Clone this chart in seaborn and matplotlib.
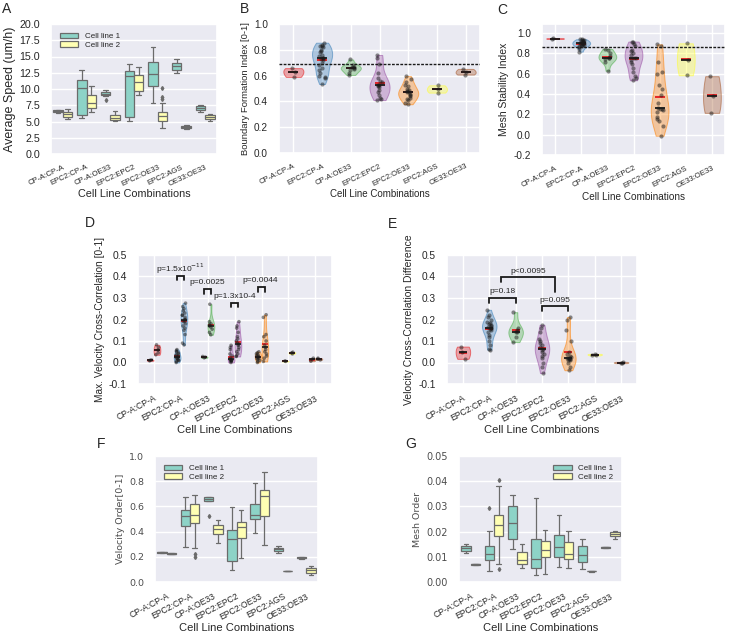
import numpy as np
import pandas as pd
import seaborn as sns
import matplotlib.pyplot as plt
import matplotlib.colors as mcolors
from matplotlib.collections import PolyCollection
from matplotlib.ticker import FormatStrFormatter

combos = ["CP-A:CP-A", "EPC2:CP-A", "CP-A:OE33", "EPC2:EPC2", "EPC2:OE33", "EPC2:AGS", "OE33:OE33"]
cell_lines = ["Cell line 1", "Cell line 2"]

# A - average speed (um/h), one list per combination
speed_line1 = [
    [6.3, 6.4, 6.55, 6.7, 6.8],
    [5.6, 6.0, 10.1, 11.4, 12.9],
    [8.3, 8.9, 9.1, 9.2, 9.3, 9.45, 9.6, 9.7, 9.85],
    [5.1, 5.7, 12.0, 12.8, 13.8],
    [7.8, 10.5, 12.3, 14.1, 16.4],
    [12.4, 12.9, 13.5, 14.0, 14.6],
    [6.5, 6.8, 7.15, 7.35, 7.5],
]
speed_line2 = [
    [5.4, 5.65, 6.1, 6.45, 6.85],
    [6.4, 7.1, 7.8, 9.1, 10.4],
    [5.1, 5.25, 5.5, 5.95, 6.65],
    [9.1, 9.7, 11.1, 12.1, 13.4],
    [4.0, 4.5, 4.8, 5.0, 5.15, 5.3, 5.5, 5.7, 5.9, 6.0, 6.15, 6.3, 6.45, 7.9, 8.5, 8.8, 10.1],
    [3.8, 3.95, 4.15, 4.35, 4.5],
    [5.1, 5.45, 5.75, 6.0, 6.1],
]

# B - boundary formation index
boundary = [
    [0.59, 0.628, 0.658],
    [0.535, 0.58, 0.59, 0.60, 0.62, 0.64, 0.66, 0.68, 0.70, 0.72, 0.73, 0.74, 0.74,
     0.75, 0.76, 0.78, 0.79, 0.80, 0.82, 0.83, 0.83, 0.84, 0.855],
    [0.605, 0.62, 0.64, 0.65, 0.66, 0.665, 0.67, 0.68, 0.725],
    [0.41, 0.42, 0.43, 0.45, 0.47, 0.49, 0.51, 0.52, 0.525, 0.53, 0.55, 0.56, 0.58,
     0.62, 0.69, 0.74, 0.76],
    [0.378, 0.39, 0.41, 0.42, 0.43, 0.44, 0.45, 0.46, 0.47, 0.47, 0.48, 0.49, 0.50,
     0.52, 0.53, 0.55, 0.57, 0.596],
    [0.468, 0.495, 0.525],
    [0.608, 0.628, 0.652],
]
boundary_ref = 0.689

# C - mesh stability index
stability = [
    [0.944, 0.95],
    [0.818, 0.84, 0.86, 0.87, 0.87, 0.88, 0.88, 0.89, 0.89, 0.90, 0.90, 0.90, 0.91,
     0.91, 0.92, 0.92, 0.93, 0.93, 0.94, 0.94],
    [0.63, 0.72, 0.745, 0.755, 0.76, 0.77, 0.80, 0.83, 0.845],
    [0.536, 0.56, 0.58, 0.62, 0.66, 0.70, 0.72, 0.74, 0.76, 0.76, 0.78, 0.80, 0.82,
     0.83, 0.87, 0.89, 0.91, 0.917],
    [-0.01, 0.09, 0.13, 0.15, 0.17, 0.22, 0.24, 0.25, 0.25, 0.26, 0.31, 0.39, 0.45,
     0.49, 0.60, 0.62, 0.72, 0.87, 0.89],
    [0.585, 0.74, 0.90],
    [0.215, 0.38, 0.576],
]
stability_ref = 0.868

# D - max. velocity cross-correlation (left / right group per combination)
xcorr_line1 = [
    [0.008, 0.01, 0.012],
    [0.0, 0.005, 0.01, 0.01, 0.015, 0.02, 0.02, 0.025, 0.03, 0.03, 0.035, 0.04,
     0.045, 0.05, 0.055, 0.06],
    [0.022, 0.025, 0.028],
    [0.0, 0.005, 0.008, 0.01, 0.01, 0.012, 0.015, 0.02, 0.03, 0.04, 0.06, 0.07, 0.08],
    [0.0, 0.005, 0.01, 0.015, 0.02, 0.02, 0.025, 0.03, 0.03, 0.035, 0.04, 0.045, 0.05],
    [0.005, 0.007],
    [0.006, 0.014, 0.02],
]
xcorr_line2 = [
    [0.036, 0.045, 0.058, 0.07, 0.082],
    [0.082, 0.09, 0.13, 0.15, 0.16, 0.17, 0.18, 0.19, 0.19, 0.20, 0.20, 0.21, 0.22,
     0.22, 0.23, 0.24, 0.25, 0.26, 0.276],
    [0.129, 0.14, 0.155, 0.165, 0.17, 0.175, 0.18, 0.19, 0.271],
    [0.028, 0.03, 0.04, 0.05, 0.06, 0.07, 0.08, 0.085, 0.09, 0.10, 0.11, 0.12, 0.14,
     0.16, 0.17, 0.19],
    [0.005, 0.02, 0.03, 0.04, 0.05, 0.06, 0.07, 0.08, 0.10, 0.12, 0.13, 0.21, 0.222],
    [0.04, 0.045, 0.048],
    [0.012, 0.016, 0.02],
]
d_pvalues = ["p=1.5x10$^{-11}$", "p=0.0025", "p=1.3x10-4", "p=0.0044"]

# E - velocity cross-correlation difference
xcorr_diff = [
    [0.017, 0.047, 0.074],
    [0.06, 0.065, 0.08, 0.10, 0.12, 0.13, 0.14, 0.15, 0.155, 0.16, 0.16, 0.165, 0.17,
     0.175, 0.18, 0.185, 0.19, 0.20, 0.21, 0.22, 0.245],
    [0.095, 0.12, 0.14, 0.144, 0.15, 0.16, 0.234],
    [-0.049, -0.02, 0.0, 0.02, 0.03, 0.04, 0.05, 0.06, 0.065, 0.07, 0.08, 0.09, 0.10,
     0.11, 0.14, 0.16, 0.175],
    [-0.036, -0.02, 0.0, 0.01, 0.012, 0.015, 0.018, 0.02, 0.02, 0.025, 0.03, 0.04,
     0.05, 0.10, 0.15, 0.20, 0.211],
    [0.033, 0.037, 0.04],
    [-0.003, 0.0, 0.003],
]
e_pvalues = ["p=0.18", "p=0.095", "p<0.0095"]

# F - velocity order
vorder_line1 = [
    [0.232, 0.234, 0.236, 0.238, 0.24],
    [0.277, 0.446, 0.52, 0.573, 0.673],
    [0.52, 0.64, 0.645, 0.652, 0.66, 0.665, 0.673, 0.674, 0.675],
    [0.098, 0.164, 0.343, 0.409, 0.594],
    [0.39, 0.50, 0.533, 0.62, 0.784],
    [0.232, 0.245, 0.264, 0.272, 0.285],
    [0.186, 0.189, 0.192, 0.195, 0.198],
]
vorder_line2 = [
    [0.22, 0.223, 0.226, 0.229, 0.232],
    [0.20, 0.225, 0.27, 0.47, 0.49, 0.51, 0.533, 0.56, 0.59, 0.62, 0.65, 0.67, 0.69],
    [0.309, 0.383, 0.417, 0.454, 0.493],
    [0.187, 0.348, 0.44, 0.48, 0.573],
    [0.296, 0.52, 0.686, 0.73, 0.87],
    [0.085, 0.086, 0.087, 0.088, 0.09],
    [0.058, 0.074, 0.092, 0.113, 0.124],
]

# G - mesh order
morder_line1 = [
    [0.0117, 0.0125, 0.0135, 0.0141, 0.0152],
    [0.0042, 0.007, 0.0086, 0.01, 0.0112, 0.012, 0.0141, 0.0201, 0.0293],
    [0.0132, 0.0169, 0.0234, 0.030, 0.0347],
    [0.0026, 0.0055, 0.009, 0.0172, 0.0334],
    [0.0059, 0.0099, 0.0139, 0.0185, 0.0264],
    [0.005, 0.0079, 0.0108, 0.0141, 0.0169],
    [0.0135, 0.0136, 0.0137, 0.0138, 0.0139],
]
morder_line2 = [
    [0.0068, 0.0069, 0.007, 0.0071, 0.0072],
    [0.005, 0.0073, 0.0182, 0.020, 0.0227, 0.024, 0.0267, 0.0379, 0.0405],
    [0.0055, 0.0073, 0.0086, 0.0119, 0.0149],
    [0.0032, 0.0099, 0.0128, 0.0161, 0.0205],
    [0.0057, 0.009, 0.0112, 0.0158, 0.0201],
    [0.0041, 0.0042, 0.0043, 0.0044, 0.0045],
    [0.0169, 0.0181, 0.0191, 0.0198, 0.0202],
]

set1 = sns.color_palette("Set1", 7)
box_colors = ["#8dd3c7", "#ffffb3"]
mean_red = "#e41a1c"


def long_frame(groups):
    rows = [(c, v) for c, vals in zip(combos, groups) for v in vals]
    return pd.DataFrame(rows, columns=["combo", "value"])


def pair_frame(first, second):
    parts = []
    for name, groups in zip(cell_lines, (first, second)):
        parts.append(long_frame(groups).assign(line=name))
    return pd.concat(parts, ignore_index=True)


def soften(ax, alpha=0.35):
    # violins: pale fill in the colour of their combination
    for coll in ax.collections:
        if isinstance(coll, PolyCollection):
            cx = coll.get_paths()[0].vertices[:, 0].mean()
            c = set1[int(round(cx))]
            coll.set_facecolor(mcolors.to_rgba(c, alpha))
            coll.set_edgecolor(mcolors.to_rgba(c, 0.55))
            coll.set_linewidth(0.7)


def style_x(ax, size=6.2, label_size=8, rot=28):
    ax.set_xlabel("Cell Line Combinations", fontsize=label_size, labelpad=1)
    ax.tick_params(axis="x", labelsize=size, rotation=rot, pad=1)
    for t in ax.get_xticklabels():
        t.set_ha("right")
        t.set_rotation_mode("anchor")


def box_panel(ax, df, loc):
    sns.boxplot(data=df, x="combo", y="value", hue="line", order=combos, hue_order=cell_lines,
                palette=box_colors, saturation=1, linecolor="0.42", linewidth=0.9, fliersize=2,
                flierprops=dict(marker="d", markerfacecolor="0.42", markeredgecolor="0.42"), ax=ax)
    sns.move_legend(ax, loc, title=None, frameon=False, fontsize=5.8, handlelength=2.3,
                    handleheight=0.6, labelspacing=0.15, borderaxespad=0.7)


def violin_panel(ax, groups, width, jitter, bar):
    df = long_frame(groups)
    sns.violinplot(data=df, x="combo", y="value", hue="combo", order=combos, hue_order=combos,
                   palette=set1, saturation=1, legend=False, cut=0, inner=None,
                   density_norm="width", width=width, linewidth=0.7, ax=ax)
    soften(ax)
    sns.stripplot(data=df, x="combo", y="value", order=combos, color="k", alpha=0.5,
                  size=3, jitter=jitter, ax=ax)
    for est, col in (("mean", mean_red), ("median", "k")):
        sns.pointplot(data=df, x="combo", y="value", order=combos, estimator=est, errorbar=None,
                      color=col, marker="_", linestyle="none", markersize=bar,
                      markeredgewidth=1.3, ax=ax)
    ax.xaxis.grid(True)
    ax.set_xlabel("")


def bracket(ax, x1, x2, y_left, y_top, y_right, text, tx, ty, size=6):
    ax.plot([x1, x1, x2, x2], [y_left, y_top, y_top, y_right], color="k", lw=1.3,
            solid_joinstyle="miter", zorder=5)
    ax.text(tx, ty, text, ha="center", va="center", fontsize=size, color="0.15")


np.random.seed(3)
sns.set_theme(style="darkgrid")
plt.rcParams["font.family"] = ["Liberation Sans", "DejaVu Sans"]
plt.rcParams["axes.unicode_minus"] = False

W, H = 738, 634
fig = plt.figure(figsize=(W / 100, H / 100), dpi=100)


def add_axes(left, top, right, bottom):
    return fig.add_axes([left / W, 1 - bottom / H, (right - left) / W, (bottom - top) / H])


# ---- A
axA = add_axes(51, 24, 217, 154)
box_panel(axA, pair_frame(speed_line1, speed_line2), "upper left")
axA.set_ylim(0, 20)
axA.set_yticks(np.arange(0, 20.01, 2.5))
axA.yaxis.set_major_formatter(FormatStrFormatter("%.1f"))
axA.tick_params(axis="y", labelsize=7.7, pad=2)
axA.set_ylabel("Average Speed (um/h)", fontsize=9, labelpad=2)
style_x(axA, 5.6, 7.8, 25)

# ---- B
axB = add_axes(279, 24, 480, 153)
violin_panel(axB, boundary, 0.7, 0.12, 7)
axB.axhline(boundary_ref, color="k", ls=(0, (2, 1)), lw=1, zorder=4)
axB.set_ylim(0, 1.0)
axB.set_yticks(np.arange(0, 1.01, 0.2))
axB.yaxis.set_major_formatter(FormatStrFormatter("%.1f"))
axB.tick_params(axis="y", labelsize=7.2, pad=2)
axB.set_ylabel("Boundary Formation Index [0-1]", fontsize=6.8, labelpad=3)
style_x(axB, 5.5, 7, 26)

# ---- C
axC = add_axes(542, 24, 725, 155)
violin_panel(axC, stability, 0.68, 0.12, 6.5)
axC.axhline(stability_ref, color="k", ls=(0, (2, 1)), lw=1, zorder=4)
axC.set_ylim(-0.2, 1.09)
axC.set_yticks(np.arange(-0.2, 1.01, 0.2))
axC.yaxis.set_major_formatter(FormatStrFormatter("%.1f"))
axC.tick_params(axis="y", labelsize=7.2, pad=2)
axC.set_ylabel("Mesh Stability Index", fontsize=7.5, labelpad=3)
style_x(axC, 5.6, 7.2, 27)

# ---- D
axD = add_axes(138, 255, 332, 384)
dfD = pair_frame(xcorr_line1, xcorr_line2)
sns.violinplot(data=dfD, x="combo", y="value", hue="line", order=combos, hue_order=cell_lines,
               palette=["0.5", "0.5"], saturation=1, legend=False, cut=0, inner=None,
               density_norm="width", width=0.5, linewidth=0.7, ax=axD)
soften(axD)
n0 = len(axD.collections)
sns.stripplot(data=dfD, x="combo", y="value", hue="line", order=combos, hue_order=cell_lines,
              palette=["k", "k"], dodge=True, jitter=0.2, alpha=0.5, size=2.6, legend=False, ax=axD)
for coll in axD.collections[n0:]:
    xy = coll.get_offsets().copy()
    if len(xy):
        c = np.round(xy[:, 0])
        xy[:, 0] = c + (xy[:, 0] - c) * 0.625
        coll.set_offsets(xy)
for est, col in (("mean", mean_red), ("median", "k")):
    sns.pointplot(data=dfD, x="combo", y="value", hue="line", order=combos, hue_order=cell_lines,
                  palette=[col, col], dodge=0.25, estimator=est, errorbar=None, marker="_",
                  linestyle="none", markersize=4.5, markeredgewidth=1.2, legend=False, ax=axD)
axD.xaxis.grid(True)
bracket(axD, 0.875, 1.125, 0.384, 0.402, 0.384, d_pvalues[0], 1.0, 0.435)
bracket(axD, 1.875, 2.125, 0.320, 0.342, 0.320, d_pvalues[1], 2.0, 0.370)
bracket(axD, 2.875, 3.125, 0.258, 0.277, 0.258, d_pvalues[2], 3.0, 0.305)
bracket(axD, 3.875, 4.125, 0.328, 0.350, 0.328, d_pvalues[3], 3.95, 0.380)
axD.set_ylim(-0.1, 0.5)
axD.set_yticks(np.arange(-0.1, 0.51, 0.1))
axD.yaxis.set_major_formatter(FormatStrFormatter("%.1f"))
axD.tick_params(axis="y", labelsize=7.5, pad=2)
axD.set_ylabel("Max. Velocity Cross-Correlation [0-1]", fontsize=7.3, labelpad=3)
style_x(axD, 6.2, 8)

# ---- E
axE = add_axes(447, 255, 637, 384)
violin_panel(axE, xcorr_diff, 0.55, 0.1, 5.5)
bracket(axE, 1, 2, 0.277, 0.300, 0.277, e_pvalues[0], 1.5, 0.328)
bracket(axE, 3, 4, 0.240, 0.263, 0.240, e_pvalues[1], 3.5, 0.290)
bracket(axE, 1.45, 3.5, 0.375, 0.397, 0.330, e_pvalues[2], 2.48, 0.425)
axE.set_ylim(-0.1, 0.5)
axE.set_yticks(np.arange(-0.1, 0.51, 0.1))
axE.yaxis.set_major_formatter(FormatStrFormatter("%.1f"))
axE.tick_params(axis="y", labelsize=7.3, pad=2)
axE.set_ylabel("Velocity Cross-Correlation Difference", fontsize=7.5, labelpad=3)
style_x(axE, 6.2, 8)

# ---- F
axF = add_axes(155, 456, 318, 582)
box_panel(axF, pair_frame(vorder_line1, vorder_line2), "upper left")
axF.set_ylim(0, 1.0)
axF.set_yticks(np.arange(0, 1.01, 0.2))
axF.yaxis.set_major_formatter(FormatStrFormatter("%.1f"))
axF.tick_params(axis="y", labelsize=6.8, pad=2, labelcolor="0.3")
for t in axF.get_yticklabels():
    t.set_family("DejaVu Sans")
axF.set_ylabel("Velocity Order[0-1]", fontsize=6.8, family="DejaVu Sans", color="0.3", labelpad=3)
style_x(axF, 6.2, 8)

# ---- G
axG = add_axes(459, 456, 622, 582)
box_panel(axG, pair_frame(morder_line1, morder_line2), "upper right")
axG.set_ylim(0, 0.05)
axG.set_yticks(np.arange(0, 0.0501, 0.01))
axG.yaxis.set_major_formatter(FormatStrFormatter("%.2f"))
axG.tick_params(axis="y", labelsize=7, pad=2, labelcolor="0.3")
for t in axG.get_yticklabels():
    t.set_family("DejaVu Sans")
axG.set_ylabel("Mesh Order", fontsize=6.8, family="DejaVu Sans", color="0.3", labelpad=3)
style_x(axG, 6.2, 8)

for letter, x, y in (("A", 2, 2), ("B", 240, 2), ("C", 497, 3), ("D", 85, 216),
                     ("E", 388, 217), ("F", 97, 437), ("G", 405, 437)):
    fig.text(x / W, 1 - y / H, letter, fontsize=10, ha="left", va="top")

fig.savefig("out.png", dpi=100)
